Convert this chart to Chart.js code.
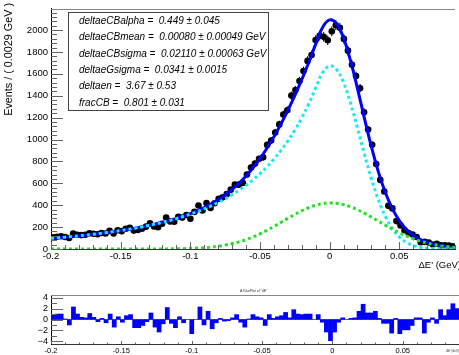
<!DOCTYPE html>
<html>
<head>
<meta charset="utf-8">
<script src="https://cdn.jsdelivr.net/npm/chart.js@4.4.1/dist/chart.umd.min.js"></script>
<style>
  html, body { margin: 0; padding: 0; background: #fff; width: 459px; height: 355px; overflow: hidden; }
  canvas { position: absolute; left: 0; }
  #main { top: 0; }
  #pull { top: 285px; }
</style>
</head>
<body>
<canvas id="main" width="459" height="285"></canvas>
<canvas id="pull" width="459" height="70"></canvas>
<script>
// Binning of the ΔE' histogram
const binLow = -0.2;
const binHigh = 0.09;
const nBins = 100;

// Axis tick labels
const xTickValues = [-0.2, -0.15, -0.1, -0.05, 0, 0.05];
const yTickValues = [0, 200, 400, 600, 800, 1000, 1200, 1400, 1600, 1800, 2000];
const pullTickValues = [-4, -2, 0, 2, 4];

// Events per bin
const events = [
  107, 112, 116, 110, 101, 140, 130, 127, 130, 143,
  139, 135, 146, 141, 166, 141, 171, 163, 185, 194,
  168, 174, 186, 204, 235, 205, 199, 231, 288, 252,
  249, 294, 287, 310, 277, 339, 398, 352, 419, 375,
  418, 458, 472, 501, 542, 588, 588, 603, 680, 745,
  780, 824, 837, 951, 991, 1064, 1138, 1229, 1268, 1401,
  1452, 1534, 1626, 1718, 1772, 1908, 1948, 1938, 1907, 1988,
  2044, 2021, 1919, 1812, 1682, 1580, 1469, 1249, 1092, 952,
  777, 631, 525, 394, 371, 255, 214, 171, 146, 133,
  109, 62, 65, 59, 41, 48, 34, 33, 32, 24
];

// Pull of each bin with respect to the total fit
const pulls = [
  0.8, 1.0, 1.0, 0.1, -1.0, 2.3, 1.0, 0.4, 0.3, 1.1,
  0.4, -0.4, 0.2, -0.6, 1.0, -1.4, 0.5, -0.5, 0.7, 0.9,
  -1.5, -1.5, -1.1, -0.4, 1.2, -1.4, -2.3, -0.8, 2.2, -0.7,
  -1.5, 0.5, -0.6, 0.0, -2.6, 0.0, 2.3, -1.0, 1.5, -1.7,
  -0.6, 0.2, -0.3, -0.2, 0.3, 0.9, -0.5, -1.4, 0.1, 0.9,
  0.5, 0.3, -1.1, 0.9, 0.2, 0.5, 0.7, 1.3, 0.3, 1.8,
  1.0, 0.9, 1.0, 1.0, 0.0, 0.9, -0.5, -2.3, -3.9, -2.3,
  -0.5, 0.3, 0.0, 0.2, 0.3, 1.5, 2.8, 1.2, 1.2, 1.5,
  0.2, -0.7, -0.7, -2.5, 0.2, -2.6, -1.9, -1.9, -1.1, 0.3,
  0.3, -2.5, -0.5, 0.3, -0.7, 1.8, 0.7, 1.8, 2.9, 2.0
];

// Fit curves sampled every 0.005 GeV from -0.2 to 0.09
const curveStart = -0.2;
const curveStep = 0.005;
const totalFit = [
  97.8, 102.8, 108.3, 114.1, 120.3, 127.0, 134.1, 141.7, 149.9, 158.7,
  168.2, 178.5, 189.6, 201.6, 214.5, 228.6, 244.0, 260.9, 279.6, 300.3,
  323.4, 349.3, 378.7, 412.1, 450.3, 494.0, 544.2, 601.8, 667.4, 742.1,
  826.4, 920.9, 1025.7, 1140.7, 1266.2, 1401.6, 1547.3, 1703.5, 1871.1, 2026.1,
  2092.9, 2057.4, 1927.4, 1720.2, 1465.2, 1194.0, 933.9, 704.3, 515.3, 368.1,
  259.0, 180.8, 125.9, 87.8, 61.4, 42.9, 29.8, 20.5, 13.9
];
const cbComponent = [
  97.8, 102.8, 108.3, 114.1, 120.3, 127.0, 134.1, 141.7, 149.9, 158.7,
  168.2, 178.5, 189.5, 201.4, 214.2, 228.2, 243.2, 259.6, 277.5, 296.9,
  318.1, 341.2, 366.6, 394.4, 424.9, 458.4, 495.5, 536.4, 581.6, 631.8,
  687.7, 750.2, 820.1, 898.3, 986.4, 1085.6, 1198.0, 1325.6, 1471.0, 1611.4,
  1672.3, 1639.9, 1521.7, 1334.4, 1106.2, 867.0, 642.3, 449.9, 298.0, 186.5,
  110.4, 61.8, 32.7, 16.3, 7.7, 3.5, 1.5, 0.6, 0.2
];
const gaussComponent = [
  0, 0, 0, 0, 0, 0, 0, 0, 0, 0,
  0, 0, 0.1, 0.2, 0.3, 0.4, 0.8, 1.3, 2.1, 3.4,
  5.3, 8.1, 12.1, 17.7, 25.4, 35.6, 48.7, 65.4, 85.8, 110.3,
  138.7, 170.7, 205.6, 242.4, 279.8, 316.0, 349.3, 377.9, 400.1, 414.7,
  420.6, 417.5, 405.7, 385.8, 359.0, 327.0, 291.6, 254.4, 217.3, 181.6,
  148.6, 119.0, 93.2, 71.5, 53.7, 39.4, 28.3, 19.9, 13.7
];

// Fit results shown in the parameter box
const paramLines = [
  'deltaeCBalpha =  0.449 \u00b1 0.045',
  'deltaeCBmean =  0.00080 \u00b1 0.00049 GeV',
  'deltaeCBsigma =  0.02110 \u00b1 0.00063 GeV',
  'deltaeGsigma =  0.0341 \u00b1 0.0015',
  'deltaen =  3.67 \u00b1 0.53',
  'fracCB =  0.801 \u00b1 0.031'
];

const FONT = "'Liberation Sans', Arial, Helvetica, sans-serif";
const binWidth = (binHigh - binLow) / nBins;
const binCenter = i => binLow + (i + 0.5) * binWidth;
const curveX = i => curveStart + i * curveStep;
const fmtX = v => { const r = Math.round(v * 1000) / 1000; return r === 0 ? '0' : String(r); };
const setTicks = values => scale => { scale.ticks = values.map(v => ({ value: v })); };

const dataPoints = events.map((v, i) => ({ x: binCenter(i), y: v }));
const curvePoints = arr => arr.map((v, i) => ({ x: curveX(i), y: v }));

// Tick marks drawn inward from the frame, ROOT style
const insideTicks = {
  id: 'insideTicks',
  afterDatasetsDraw(chart, args, opts) {
    const { ctx, chartArea: a, scales } = chart;
    ctx.save();
    ctx.strokeStyle = opts.color || '#555';
    ctx.lineWidth = 1;
    (opts.sets || []).forEach(s => {
      const sc = scales[s.axis];
      const n = Math.round((s.to - s.from) / s.step);
      for (let k = 0; k <= n; k++) {
        const v = s.from + k * s.step;
        const p = Math.round(sc.getPixelForValue(v)) + 0.5;
        ctx.beginPath();
        if (s.axis === 'x') { ctx.moveTo(p, a.bottom); ctx.lineTo(p, a.bottom - s.len); }
        else { ctx.moveTo(a.left, p); ctx.lineTo(a.left + s.len, p); }
        ctx.stroke();
      }
    });
    // top edge of the frame
    ctx.strokeStyle = opts.frameColor || '#888';
    ctx.beginPath();
    ctx.moveTo(a.left, Math.round(a.top) + 0.5);
    ctx.lineTo(a.right, Math.round(a.top) + 0.5);
    ctx.stroke();
    ctx.restore();
  }
};

// Statistical error bars of the binned data
const errorBars = {
  id: 'errorBars',
  beforeDatasetsDraw(chart) {
    const { ctx, scales: { x, y } } = chart;
    ctx.save();
    ctx.strokeStyle = '#000';
    ctx.lineWidth = 1;
    events.forEach((v, i) => {
      const err = Math.sqrt(v);
      const px = x.getPixelForValue(binCenter(i));
      const x0 = x.getPixelForValue(binCenter(i) - binWidth / 2);
      const x1 = x.getPixelForValue(binCenter(i) + binWidth / 2);
      const py = y.getPixelForValue(v);
      ctx.beginPath();
      ctx.moveTo(px, y.getPixelForValue(v - err));
      ctx.lineTo(px, y.getPixelForValue(v + err));
      ctx.moveTo(x0, py);
      ctx.lineTo(x1, py);
      ctx.stroke();
    });
    ctx.restore();
  }
};

// Axis titles and parameter box of the main frame
const mainText = {
  id: 'mainText',
  afterDraw(chart) {
    const { ctx } = chart;
    ctx.save();
    ctx.fillStyle = '#000';
    // y title
    ctx.save();
    ctx.translate(9, 3);
    ctx.rotate(-Math.PI / 2);
    ctx.font = `10.8px ${FONT}`;
    ctx.textAlign = 'right';
    ctx.textBaseline = 'middle';
    ctx.fillText('Events / ( 0.0029 GeV )', 0, 0);
    ctx.restore();
    // x title
    ctx.font = `9.5px ${FONT}`;
    ctx.textAlign = 'right';
    ctx.textBaseline = 'middle';
    ctx.fillText("\u0394E' (GeV)", 461, 265);
    // parameter box
    ctx.fillStyle = '#fff';
    ctx.fillRect(68.5, 12.5, 200, 98);
    ctx.strokeStyle = '#444';
    ctx.lineWidth = 1;
    ctx.strokeRect(68.5, 12.5, 200, 98);
    ctx.fillStyle = '#000';
    ctx.font = `italic 10px ${FONT}`;
    ctx.textAlign = 'left';
    ctx.textBaseline = 'middle';
    paramLines.forEach((t, k) => ctx.fillText(t, 79, 21 + k * 16.4));
    ctx.restore();
  }
};

new Chart(document.getElementById('main'), {
  type: 'scatter',
  data: {
    datasets: [
      { label: 'data', data: dataPoints, pointRadius: 3.3, pointBackgroundColor: '#000',
        pointBorderWidth: 0, showLine: false, order: 4 },
      { label: 'total', type: 'line', data: curvePoints(totalFit), borderColor: '#0000ff',
        borderWidth: 3, pointRadius: 0, tension: 0.4, fill: false, order: 3 },
      { label: 'CB', type: 'line', data: curvePoints(cbComponent), borderColor: '#1ae8f2',
        borderWidth: 3, borderDash: [3, 3], pointRadius: 0, tension: 0.4, fill: false, order: 2 },
      { label: 'Gauss', type: 'line', data: curvePoints(gaussComponent), borderColor: '#22e022',
        borderWidth: 3, borderDash: [3, 3], pointRadius: 0, tension: 0.4, fill: false, order: 1 }
    ]
  },
  options: {
    responsive: false,
    animation: false,
    devicePixelRatio: 1,
    layout: { padding: { top: 6, right: 0, left: 0, bottom: 0 } },
    plugins: { legend: { display: false }, tooltip: { enabled: false },
      insideTicks: { color: '#666', sets: [
        { axis: 'x', from: -0.2, to: 0.05, step: 0.05, len: 7 },
        { axis: 'x', from: -0.2, to: 0.09, step: 0.01, len: 4 },
        { axis: 'y', from: 0, to: 2000, step: 200, len: 12 },
        { axis: 'y', from: 0, to: 2160, step: 40, len: 6 }
      ] } },
    scales: {
      x: {
        type: 'linear', min: binLow, max: binHigh,
        afterFit(s) { s.height = 36; },
        afterBuildTicks: setTicks(xTickValues),
        grid: { display: false, drawTicks: false },
        border: { display: true, color: '#333', width: 1 },
        ticks: { autoSkip: false, maxRotation: 0, padding: 2,
          font: { family: FONT, size: 9.5 }, color: '#000', callback: v => fmtX(v) }
      },
      y: {
        type: 'linear', min: 0, max: 2195,
        afterFit(s) { s.width = 51; },
        afterBuildTicks: setTicks(yTickValues),
        grid: { display: false, drawTicks: false },
        border: { display: true, color: '#000', width: 1 },
        ticks: { autoSkip: false, padding: 3,
          font: { family: FONT, size: 9.5 }, color: '#000', callback: v => String(Math.round(v)) }
      }
    }
  },
  plugins: [errorBars, insideTicks, mainText]
});

// Small labels of the pull frame
const pullText = {
  id: 'pullText',
  afterDraw(chart) {
    const { ctx } = chart;
    ctx.save();
    ctx.fillStyle = '#333';
    ctx.font = `3.5px ${FONT}`;
    ctx.textAlign = 'left';
    ctx.textBaseline = 'middle';
    ctx.fillText('A RooPlot of "dE"', 240, 6);
    ctx.font = `3px ${FONT}`;
    ctx.textAlign = 'right';
    ctx.fillText('\u0394E (GeV)', 459, 66);
    ctx.restore();
  }
};

new Chart(document.getElementById('pull'), {
  type: 'bar',
  data: {
    datasets: [{
      label: 'pull', data: pulls.map((v, i) => ({ x: binCenter(i), y: v })),
      backgroundColor: '#0000ff', borderWidth: 0, barPercentage: 1, categoryPercentage: 1
    }]
  },
  options: {
    responsive: false,
    animation: false,
    devicePixelRatio: 1,
    layout: { padding: { top: 10, right: 0, left: 0, bottom: 0 } },
    plugins: { legend: { display: false }, tooltip: { enabled: false },
      insideTicks: { color: '#666', sets: [
        { axis: 'y', from: -4, to: 4, step: 2, len: 12 },
        { axis: 'y', from: -4, to: 4, step: 1, len: 6 },
        { axis: 'x', from: -0.2, to: 0.05, step: 0.05, len: 3 },
        { axis: 'x', from: -0.2, to: 0.09, step: 0.01, len: 1.5 }
      ] } },
    scales: {
      x: {
        type: 'linear', min: binLow, max: binHigh, offset: false,
        afterFit(s) { s.height = 11; },
        afterBuildTicks: setTicks(xTickValues),
        grid: { display: false, drawTicks: false, offset: false },
        border: { display: true, color: '#333', width: 1 },
        ticks: { autoSkip: false, maxRotation: 0, padding: 2,
          font: { family: FONT, size: 7.5 }, color: '#000', callback: v => fmtX(v) }
      },
      y: {
        type: 'linear', min: -4.5, max: 4.5,
        afterFit(s) { s.width = 51; },
        afterBuildTicks: setTicks(pullTickValues),
        grid: { display: false, drawTicks: false },
        border: { display: true, color: '#000', width: 1 },
        ticks: { autoSkip: false, padding: 3,
          font: { family: FONT, size: 9 }, color: '#000',
          callback: v => (v < 0 ? '\u2212' + String(-v) : String(v)) }
      }
    }
  },
  plugins: [insideTicks, pullText]
});
</script>
</body>
</html>
